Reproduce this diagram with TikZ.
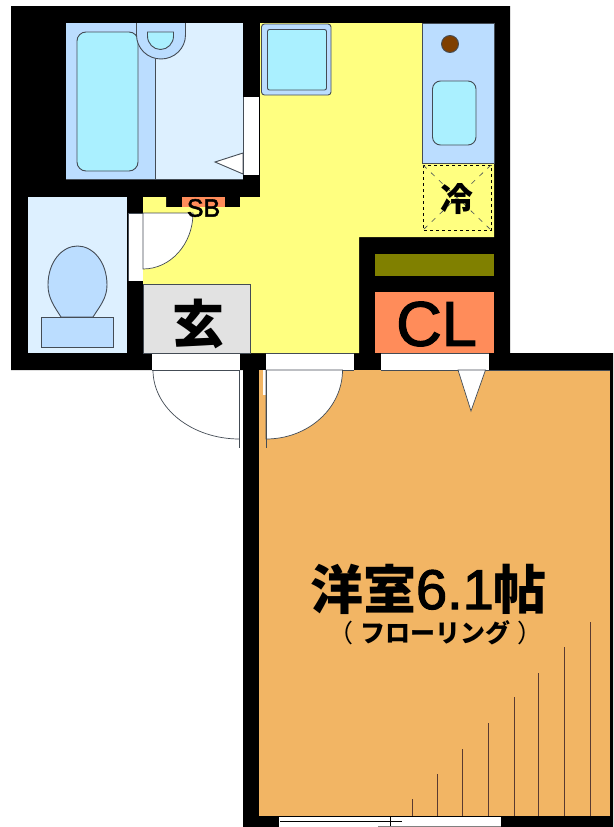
\documentclass[tikz,border=0pt]{standalone}
\usepackage{fontspec}
\setmainfont{Liberation Sans}
\newfontfamily\heavy[FakeBold=2]{Liberation Sans}
\newfontfamily\cjk{Noto Sans CJK JP}
\definecolor{wyellow}{HTML}{FFFF80}
\definecolor{wroom}{HTML}{F2B564}
\definecolor{wcl}{HTML}{FF8C5A}
\definecolor{wolive}{HTML}{808000}
\definecolor{wgray}{HTML}{E2E2E2}
\definecolor{wblue}{HTML}{BBDDFF}
\definecolor{wcyan}{HTML}{AAF0FF}
\definecolor{wpale}{HTML}{DDF0FF}
\definecolor{wline}{HTML}{444C55}
\definecolor{wbrown}{HTML}{5A3A30}
\definecolor{wknob}{HTML}{7F3F00}
\tikzset{
  x=1pt,y=-1pt,
  fixture/.style={draw=wline,line width=0.9pt},
  thin line/.style={draw=wline,line width=0.7pt},
  plain/.style={inner sep=0pt,outer sep=0pt,text=black},
  floorline/.style={draw=wbrown,line width=0.9pt},
  ghost/.style={draw=wline,line width=0.6pt,dash pattern=on 5pt off 6pt},
}
\newcommand{\px}[1]{\fontsize{#1}{#1}\selectfont}
\begin{document}
\begin{tikzpicture}
\useasboundingbox (0,0) rectangle (613,827);
\fill[white] (0,0) rectangle (613,827);
% walls
\fill[black] (11,6)--(510,6)--(510,353)--(613,353)--(613,827)--(243,827)--(243,370)--(11,370)--cycle;
% yellow floor
\fill[wyellow] (260,23)--(494,23)--(494,237)--(359,237)--(359,353)--(143,353)--(143,197)--(166,197)--(166,207)--(240,207)--(240,197)--(260,197)--cycle;
% room
\fill[wroom] (259,370) rectangle (610,816);
% bath
\fill[wpale] (66,23) rectangle (243,179);
\fill[wblue] (66,23) rectangle (155,179);
\draw[fixture,rounded corners=9pt,fill=wcyan] (77,32) rectangle (138,171);
\fill[wblue] (136.5,23) -- (136.5,35) arc[start angle=180,end angle=0,x radius=24.5,y radius=24] -- (185.5,23) -- cycle;
\draw[fixture] (136.5,23) -- (136.5,35) arc[start angle=180,end angle=0,x radius=24.5,y radius=24] -- (185.5,23);
\draw[fixture,fill=wcyan] (147.5,32) -- (173.5,32) -- (173.5,36) arc[start angle=0,end angle=180,x radius=13,y radius=13.5] -- cycle;
\draw[fixture] (155,59) -- (155,179);
\draw[thin line] (66,179) -- (243,179);
\draw[fixture,fill=white] (243,153) -- (215,162) -- (243,174) -- cycle;
\fill[white] (243.5,97) rectangle (259,175);
\draw[thin line] (243,97) -- (243,175);
% toilet room
\fill[wpale] (28,197) rectangle (127,353);
\draw[fixture,fill=wblue] (61,317) .. controls (54,306) and (48,298) .. (48,285) .. controls (48,262) and (62,246) .. (77.5,246) .. controls (93,246) and (107,262) .. (107,285) .. controls (107,298) and (100,306) .. (93,317) -- cycle;
\draw[fixture,fill=wblue] (41,317) rectangle (113.5,347);
\fill[white] (128,213) rectangle (143,281);
\draw[thin line] (128,213) -- (128,281);
\draw[thin line,fill=white] (143,213) -- (193,213) arc[start angle=0,end angle=90,x radius=50,y radius=56] -- cycle;
\draw[thin line] (128,213) -- (143,213);
% SB
\fill[wcl] (182,197) rectangle (225,207);
\node[plain,font=\heavy\px{25}] (sb) at (203.5,208) {SB};
% entry
\draw[thin line,fill=wgray] (143,284) rectangle (250,353);
\node[plain,font=\cjk\bfseries\px{52}] (genkan) at (198,324) {玄};
% kitchen sink
\draw[fixture,rounded corners=3pt,fill=wblue] (261.5,24) rectangle (331,95);
\draw[fixture,rounded corners=2pt,fill=wcyan] (267.5,29.5) rectangle (326.5,90);
% counter
\draw[thin line,fill=wblue] (422,163) -- (422,23) -- (494,23) -- (494,163) -- cycle;
\draw[fixture,fill=wknob] (450,44) circle[radius=8.5];
\draw[fixture,rounded corners=8pt,fill=wcyan] (432.5,81) rectangle (476,145);
% fridge
\draw[black,line width=0.9pt,dash pattern=on 3pt off 3pt] (423,165) rectangle (491,230);
\draw[ghost] (423,165) -- (491,230);
\draw[ghost] (491,165) -- (423,230);
\node[plain,font=\cjk\bfseries\px{33}] (rei) at (457,199) {冷};
% closet
\fill[wolive] (375,254) rectangle (494,276);
\fill[wcl] (375,292) rectangle (494,353);
\node[plain,font=\heavy\px{63}] (cl) at (436.5,324) {CL};
% openings
\fill[white] (152,353) rectangle (240,370);
\fill[white] (266,353) rectangle (354,370);
\fill[white] (381,353) rectangle (489,370);
\draw[thin line] (143,353) -- (240,353) (152,370) -- (240,370);
\draw[thin line] (266,353) -- (354,353) (266,370) -- (354,370);
\draw[thin line] (381,353) -- (489,353) (381,370) -- (610,370);
% entry door
\draw[thin line] (153,370) arc[start angle=180,end angle=90,x radius=86.5,y radius=69];
\draw[thin line] (239.5,370) -- (239.5,448);
% room door
\fill[white] (262.5,370) rectangle (266,395);
\draw[thin line,fill=white] (266,370) -- (342.5,370) arc[start angle=0,end angle=90,x radius=76.5,y radius=69] -- cycle;
\draw[thin line] (266,370) -- (266,448);
% closet door
\draw[thin line,fill=white] (458,370) -- (471,411) -- (485.5,370) -- cycle;
% labels
\node[plain,anchor=base west] (room) at (310,609) {\px{53}\cjk\bfseries 洋室\heavy\mdseries\px{56}6.1\cjk\bfseries\px{53}帖};
\node[plain,font=\cjk\px{25}] (floor) at (435,633) {（\hspace{7pt}\textbf{フローリング}\hspace{7pt}）};
% floor lines
\foreach \xx/\yy in {412/799,437/774,462/749,488/723,514/697,538/673,564/647,590/622}
  \draw[floorline] (\xx,\yy) -- (\xx,816);
% window
\fill[white] (279,817) rectangle (501,827);
\draw[black,line width=0.9pt] (280,821) -- (402,821);
\draw[black,line width=0.9pt] (390,817) -- (390,827);
\draw[gray,line width=0.9pt] (378,826.5) -- (501,826.5);
\end{tikzpicture}
\end{document}
